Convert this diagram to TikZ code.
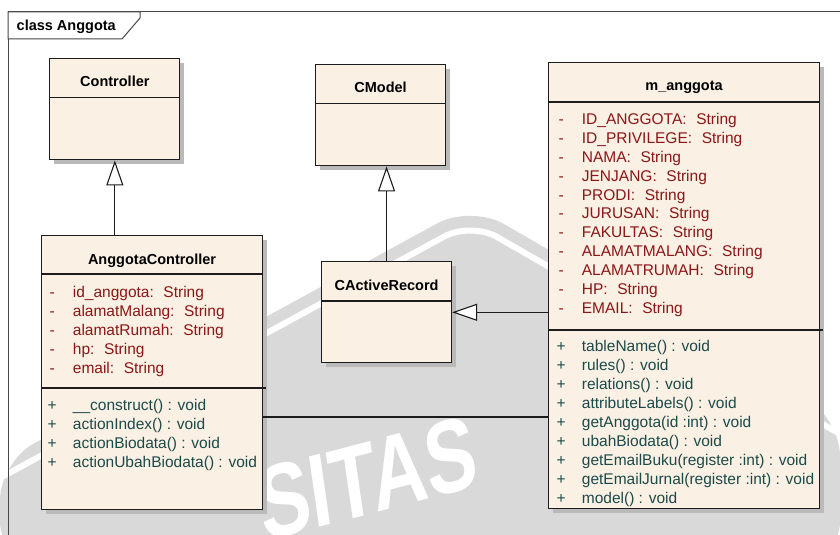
\documentclass[tikz,border=0pt]{standalone}
\usepackage{fontspec}
\setmainfont{Liberation Sans}
\usetikzlibrary{arrows.meta,shadows}

\definecolor{classfill}{RGB}{250,240,227}
\definecolor{edgecol}{RGB}{28,28,28}
\definecolor{attrcol}{RGB}{140,22,24}
\definecolor{opcol}{RGB}{28,74,74}
\definecolor{framecol}{RGB}{70,70,70}
\definecolor{hillgray}{RGB}{217,217,217}

% "name:  Type" separator as the tool prints it
\newcommand{\ofType}{:\hskip0.62em\relax}

\tikzset{
  classbox/.style={draw=edgecol, line width=1.1pt, fill=classfill, anchor=north west,
    inner sep=0pt, drop shadow={shadow xshift=4.5pt, shadow yshift=-4.5pt, fill=black!27, opacity=1}},
  divider/.style={draw=edgecol, line width=1.1pt},
  classname/.style={font=\fontsize{14.5}{17}\selectfont\bfseries, anchor=base, inner sep=0pt},
  attr/.style={font=\fontsize{15.5}{18}\selectfont, text=attrcol, anchor=base west, inner sep=0pt},
  op/.style={font=\fontsize{15.5}{18}\selectfont, text=opcol, anchor=base west, inner sep=0pt},
  gen/.style={draw=edgecol, line width=1.1pt, -{Triangle[length=25pt,width=17pt,fill=white,line width=1.1pt]}},
  assoc/.style={draw=edgecol, line width=1.1pt},
  bigmark/.style={font=\fontsize{104}{110}\selectfont\bfseries, text=white, inner sep=0pt, xscale=0.74}
}

\begin{document}
\begin{tikzpicture}[x=1pt, y=-1pt]
\useasboundingbox (0,0) rectangle (840,535);
\fill[white] (0,0) rectangle (840,535);
\begin{scope}
\clip (0,0) rectangle (840,535);
% emblem hill behind the diagram
\fill[hillgray, rounded corners=38pt] (0,462) -- (471,205) -- (840,418) -- (840,560) -- (0,560) -- cycle;
\draw[white, line width=6pt, rounded corners=30pt] (0,478) -- (471,222) -- (840,434);
\node[bigmark, rotate=11, anchor=base west] (wmark) at (264,542) {SITAS};
\end{scope}

% diagram frame and its name tab
\draw[framecol, line width=1pt] (8,540) -- (8,12) -- (842,12);
\filldraw[draw=framecol, fill=white, line width=1pt]
  (8,12) -- (140,12) -- (140,18) -- (122,39) -- (8,39) -- cycle;
\node[font=\fontsize{14.5}{17}\selectfont\bfseries, anchor=base west, inner sep=0pt] (diagname) at (16.5,30.7) {class Anggota};

% class boxes
\node[classbox, minimum width=130pt, minimum height=101pt] (ctrl) at (49.3,58.3) {};
\node[classbox, minimum width=130pt, minimum height=101pt] (cmodel) at (315,64.3) {};
\node[classbox, minimum width=221.6pt, minimum height=274.3pt] (actrl) at (40.7,235) {};
\node[classbox, minimum width=130pt, minimum height=101pt] (car) at (321,261) {};
\node[classbox, minimum width=270.4pt, minimum height=445.4pt] (manggota) at (548.3,62.3) {};

% compartment lines
\draw[divider] (ctrl.west |- 0,97.7) -- (ctrl.east |- 0,97.7);
\draw[divider] (cmodel.west |- 0,103.3) -- (cmodel.east |- 0,103.3);
\draw[divider] (car.west |- 0,301) -- (car.east |- 0,301);
\draw[divider] (actrl.west |- 0,274) -- (actrl.east |- 0,274);
\draw[divider] (actrl.west |- 0,388) -- ([xshift=3pt]actrl.east |- 0,388);
\draw[divider] (manggota.west |- 0,102) -- (manggota.east |- 0,102);
\draw[divider] (manggota.west |- 0,330) -- ([xshift=3pt]manggota.east |- 0,330);

% class names
\node[classname] (ctrl-name) at (ctrl.center |- 0,86) {Controller};
\node[classname] (cmodel-name) at (cmodel.center |- 0,92.3) {CModel};
\node[classname] (car-name) at (car.center |- 0,290.7) {CActiveRecord};
\node[classname] (actrl-name) at (actrl.center |- 0,264.3) {AnggotaController};
\node[classname] (manggota-name) at (manggota.center |- 0,90.5) {m\_anggota};

% AnggotaController members
\foreach \t [count=\i from 0] in {id\_anggota\ofType String, alamatMalang\ofType String,
    alamatRumah\ofType String, hp\ofType String, email\ofType String} {
  \node[attr] (actrl-am\i) at (49.5,297.6+18.95*\i) {-};
  \node[attr] (actrl-a\i) at (72.7,297.6+18.95*\i) {\t};
}
\foreach \t [count=\i from 0] in {\_\_construct() : void, actionIndex() : void,
    actionBiodata() : void, actionUbahBiodata() : void} {
  \node[op] (actrl-om\i) at (47.5,410.6+18.95*\i) {+};
  \node[op] (actrl-o\i) at (72.7,410.6+18.95*\i) {\t};
}

% m_anggota members
\foreach \t [count=\i from 0] in {ID\_ANGGOTA\ofType String, ID\_PRIVILEGE\ofType String,
    NAMA\ofType String, JENJANG\ofType String, PRODI\ofType String, JURUSAN\ofType String,
    FAKULTAS\ofType String, ALAMATMALANG\ofType String, ALAMATRUMAH\ofType String,
    HP\ofType String, EMAIL\ofType String} {
  \node[attr] (manggota-am\i) at (558.5,124.2+18.95*\i) {-};
  \node[attr] (manggota-a\i) at (581.7,124.2+18.95*\i) {\t};
}
\foreach \t [count=\i from 0] in {tableName() : void, rules() : void, relations() : void,
    attributeLabels() : void, getAnggota(id :int) : void, ubahBiodata() : void,
    getEmailBuku(register :int) : void, getEmailJurnal(register :int) : void, model() : void} {
  \node[op] (manggota-om\i) at (556.5,351.8+19*\i) {+};
  \node[op] (manggota-o\i) at (581.7,351.8+19*\i) {\t};
}

% relationships
\draw[gen] (ctrl.south |- actrl.north) -- (ctrl.south);
\draw[gen] (car.north) -- (car.north |- cmodel.south);
\draw[gen] (manggota.west |- 0,312.3) -- (car.east |- 0,312.3);
\draw[assoc] (actrl.east |- 0,417) -- (manggota.west |- 0,417);
\end{tikzpicture}
\end{document}
